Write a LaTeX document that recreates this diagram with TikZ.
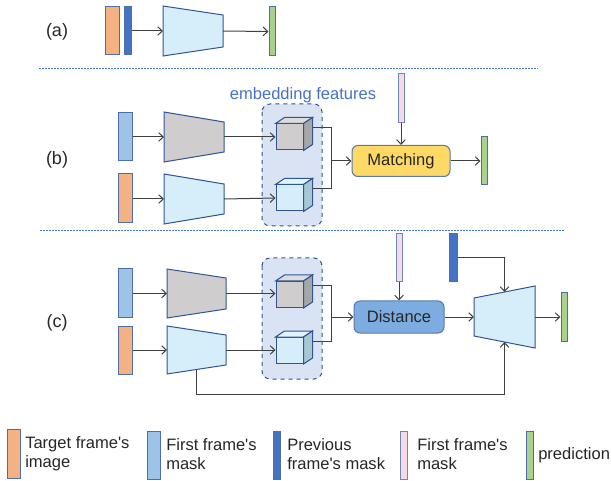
\documentclass[tikz,border=0pt]{standalone}
\usepackage{fontspec}
\setmainfont{Liberation Sans}
\usetikzlibrary{arrows.meta,calc}

\definecolor{cOrange}{HTML}{F4B183}
\definecolor{cMask}{HTML}{9DC3E6}
\definecolor{cPrev}{HTML}{4472C4}
\definecolor{cPink}{HTML}{F8D9EA}
\definecolor{cGreen}{HTML}{A9D18E}
\definecolor{cEnc}{HTML}{D5EEF9}
\definecolor{cGrey}{HTML}{CFCDCD}
\definecolor{cEdge}{HTML}{2F5597}
\definecolor{cBox}{HTML}{DAE3F3}
\definecolor{cMatch}{HTML}{FFD966}
\definecolor{cDist}{HTML}{7DADE0}
\definecolor{cLine}{HTML}{404040}
\definecolor{cText}{HTML}{262626}
\definecolor{cGreyTop}{HTML}{DCDCDC}
\definecolor{cGreySide}{HTML}{A6A6A6}
\definecolor{cEncTop}{HTML}{E2F4FC}
\definecolor{cEncSide}{HTML}{A9C7D2}

\newcommand\pxu{0.75pt}
\newcommand\apos{\textquotesingle}

% encoder / decoder block: name, x left, x right, y centre, half height left, half height right, fill
\newcommand\trapblock[7]{%
  \draw[trapline, fill=#7] (#2,#4-#5) -- (#3,#4-#6) -- (#3,#4+#6) -- (#2,#4+#5) -- cycle;
  \coordinate (#1-in) at (#2,#4);
  \coordinate (#1-out) at (#3,#4);
  \coordinate (#1-top) at ($(#2,#4-#5)!0.5!(#3,#4-#6)$);
  \coordinate (#1-bot) at ($(#2,#4+#5)!0.5!(#3,#4+#6)$);
}

% feature cube: name, x, y, front, top, side
\newcommand\featcube[6]{%
  \node[cubeface, fill=#4] (#1) at (#2,#3) {};
  \draw[trapline, fill=#5] (#1.north west) -- ($(#1.north west)+(9,-6)$)
     -- ($(#1.north east)+(9,-6)$) -- (#1.north east) -- cycle;
  \draw[trapline, fill=#6] (#1.north east) -- ($(#1.north east)+(9,-6)$)
     -- ($(#1.south east)+(9,-6)$) -- (#1.south east) -- cycle;
  \coordinate (#1-out) at ($(#1.east)+(9,-9)$);
}

\begin{document}
\begin{tikzpicture}[x=0.75pt, y=-0.75pt,
  bar/.style={draw=cEdge!85, line width=0.75pt, inner sep=0, minimum height=48*\pxu},
  trapline/.style={draw=cEdge, line width=0.75pt, line join=miter},
  cubeface/.style={draw=cEdge, line width=0.75pt, inner sep=0,
    minimum width=27*\pxu, minimum height=26*\pxu},
  featbox/.style={draw=cEdge, dashed, line width=0.75pt, fill=cBox,
    rounded corners=8*\pxu},
  opbox/.style={draw=cEdge!80, line width=0.75pt, rounded corners=6*\pxu,
    inner sep=0, text=cText, font=\fontsize{12.4}{14}\selectfont},
  conn/.style={draw=cLine, line width=0.75pt},
  arr/.style={conn, -{Straight Barb[length=3.5pt, width=6.5pt]}},
  sep/.style={draw=cPrev, dash pattern=on 1.5pt off 0.75pt, line width=0.75pt},
  lab/.style={text=cText, font=\fontsize{13.5}{15}\selectfont},
  legtext/.style={text=cText, anchor=west, align=left, inner sep=0,
    font=\fontsize{12.4}{14}\selectfont},
]
\useasboundingbox (0,0) rectangle (611,481);

%% (a) single-stage baseline
\node[lab] (la) at (57,32) {(a)};
\node[bar, fill=cOrange, minimum width=14*\pxu] (a1) at (112,31) {};
\node[bar, fill=cPrev, minimum width=7*\pxu] (a2) at (128,31) {};
\trapblock{aenc}{163}{223}{31}{25}{16}{cEnc}
\node[bar, fill=cGreen, minimum width=6*\pxu, minimum height=49*\pxu] (aout) at (272,31.5) {};
\draw[arr] (a2.east) -- (aenc-in);
\draw[arr] (aenc-out) -- (aout.west);

\coordinate (s1a) at (39,69);
\coordinate (s1b) at (538,69);
\draw[sep] (s1a) -- (s1b);

%% (b) matching
\node[lab] (lb) at (57,160) {(b)};
\node[text=cPrev, font=\fontsize{12.4}{14}\selectfont] (embl) at (303,95) {embedding features};
\node[bar, fill=cMask, minimum width=14*\pxu] (b1) at (125,137) {};
\node[bar, fill=cOrange, minimum width=14*\pxu, minimum height=49*\pxu] (b2) at (125,198.5) {};
\trapblock{benc1}{164}{224}{137}{25}{15}{cGrey}
\trapblock{benc2}{164}{224}{199}{25}{15}{cEnc}
\draw[arr] (b1.east) -- (benc1-in);
\draw[arr] (b2.east |- benc2-in) -- (benc2-in);
\path[featbox] (262,104) rectangle (322,226);
\featcube{bc1}{289.5}{137}{cGrey}{cGreyTop}{cGreySide}
\featcube{bc2}{289.5}{198}{cEnc}{cEncTop}{cEncSide}
\draw[arr] (benc1-out) -- (bc1.west);
\draw[arr] (benc2-out) -- (bc2.west);
\node[opbox, fill=cMatch, minimum width=98*\pxu, minimum height=31*\pxu] (match) at (401,161) {Matching};
\path (match.west) ++(-20,0) coordinate (bm);
\draw[conn] (bc1-out) -| (bm);
\draw[conn] (bc2-out) -| (bm);
\draw[arr] (bm) -- (match.west);
\node[bar, fill=cPink, draw=cEdge!70, minimum width=6*\pxu, minimum height=49*\pxu] (bpink) at (401,98.5) {};
\draw[arr] (bpink.south) -- (match.north);
\node[bar, fill=cGreen, minimum width=6*\pxu] (bout) at (484,161) {};
\draw[arr] (match.east) -- (bout.west);

\coordinate (s2a) at (40,231);
\coordinate (s2b) at (564,231);
\draw[sep] (s2a) -- (s2b);

%% (c) distance + decoder
\node[lab] (lc) at (57,323) {(c)};
\node[bar, fill=cMask, minimum width=14*\pxu] (c1) at (125.5,293) {};
\node[bar, fill=cOrange, minimum width=14*\pxu] (c2) at (125.5,350) {};
\trapblock{cenc1}{167}{226}{293.5}{24.5}{15.5}{cGrey}
\trapblock{cenc2}{167}{226}{350}{24}{15}{cEnc}
\draw[arr] (c1.east |- cenc1-in) -- (cenc1-in);
\draw[arr] (c2.east) -- (cenc2-in);
\path[featbox] (262,258) rectangle (322,379);
\featcube{cc1}{289.5}{294.5}{cGrey}{cGreyTop}{cGreySide}
\featcube{cc2}{289.5}{350.5}{cEnc}{cEncTop}{cEncSide}
\draw[arr] (cenc1-out) -- (cc1.west |- cenc1-out);
\draw[arr] (cenc2-out) -- (cc2.west |- cenc2-out);
\node[opbox, fill=cDist, minimum width=90*\pxu, minimum height=32*\pxu] (dist) at (399,317) {Distance};
\path (dist.west) ++(-22,0) coordinate (cm);
\draw[conn] (cc1-out) -| (cm);
\draw[conn] (cc2-out) -| (cm);
\draw[arr] (cm) -- (dist.west);
\node[bar, fill=cPink, draw=cEdge!70, minimum width=6*\pxu] (cpink) at (399,258) {};
\draw[arr] (cpink.south) -- (dist.north);
\node[bar, fill=cPrev, minimum width=8*\pxu] (cprev) at (453,258) {};
\trapblock{dec}{474}{535}{317}{19}{31}{cEnc}
\draw[arr] (dist.east) -- (dec-in);
\draw[arr] (cprev.east) -| (dec-top);
\coordinate (skipy) at (0,394);
\draw[arr] (cenc2-bot) -- (cenc2-bot |- skipy) -| (dec-bot);
\node[bar, fill=cGreen, minimum width=6*\pxu] (cout) at (564,317) {};
\draw[arr] (dec-out) -- (cout.west);

%% legend
\node[bar, fill=cOrange, minimum width=13*\pxu, minimum height=49*\pxu] (k1) at (13.5,453.5) {};
\node[legtext] (t1) at (25,454) {Target frame\apos s\\image};
\node[bar, fill=cMask, minimum width=13*\pxu] (k2) at (153.5,455) {};
\node[legtext] (t2) at (166,454) {First frame\apos s\\mask};
\node[bar, fill=cPrev, minimum width=7*\pxu] (k3) at (276.5,455) {};
\node[legtext] (t3) at (287,454) {Previous\\frame\apos s mask};
\node[bar, fill=cPink, draw=cEdge!70, minimum width=7*\pxu] (k4) at (403.5,455) {};
\node[legtext] (t4) at (417,454) {First frame\apos s\\mask};
\node[bar, fill=cGreen, minimum width=7*\pxu] (k5) at (529.5,455) {};
\node[legtext] (t5) at (538,455) {prediction};
\end{tikzpicture}
\end{document}
